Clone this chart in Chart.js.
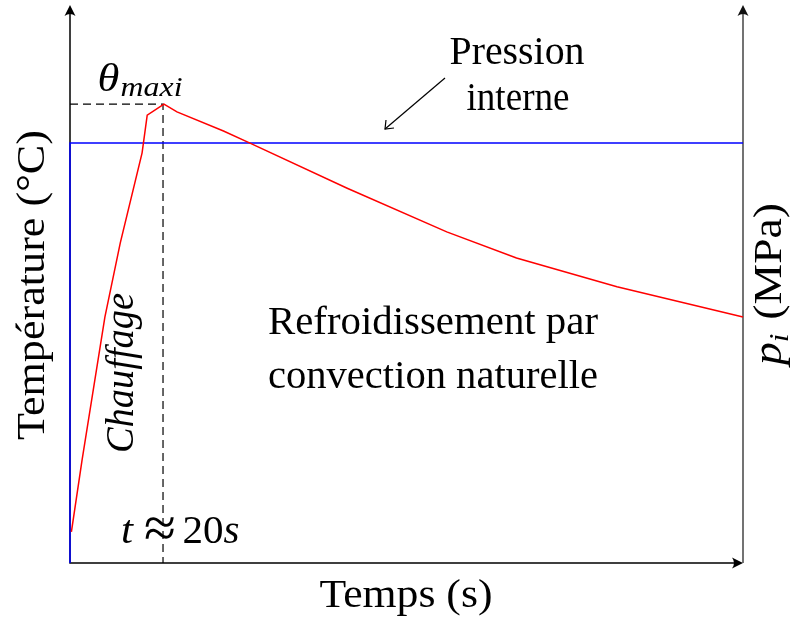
<!DOCTYPE html>
<html>
<head>
<meta charset="utf-8">
<script src="https://cdn.jsdelivr.net/npm/chart.js@4"></script>
<style>
  html, body { margin: 0; padding: 0; background: #fff; }
  #wrap { width: 800px; height: 619px; }
</style>
</head>
<body>
<div id="wrap"><canvas id="c" width="800" height="619"></canvas></div>
<script>
// temps (s) et température (°C)
const tempTimes = [0.3, 2.6, 7.5, 10.8, 15.5, 16.6, 20.2, 23, 33, 38.7, 59.6, 81, 96, 117.6, 144.7];
const tempValues = [6.7, 22.2, 52.9, 68.8, 88.2, 96.3, 98.7, 97.0, 92.9, 90.3, 80.6, 71.2, 65.6, 59.4, 52.9];

// pression interne
const pressTimes = [0, 0, 144.7];
const pressValues = [0, 90.3, 90.3];

// repère du maximum
const peakTime = 20;
const peakTemp = 98.7;

const X_MAX = 144.7;
const Y_MAX = 120;

const toPoints = (xs, ys) => xs.map((x, i) => ({ x, y: ys[i] }));

const SERIF = '"Liberation Serif", "DejaVu Serif", serif';
const R = (s) => s + 'px ' + SERIF;
const I = (s) => 'italic ' + s + 'px ' + SERIF;

function arrowHead(ctx, x, y, angle) {
  ctx.save();
  ctx.translate(x, y);
  ctx.rotate(angle);
  ctx.beginPath();
  ctx.moveTo(0, 0);
  ctx.lineTo(-11, -5.5);
  ctx.quadraticCurveTo(-7, 0, -11, 5.5);
  ctx.closePath();
  ctx.fill();
  ctx.restore();
}

// texte en plusieurs morceaux, centré en (cx, y), étiré à la largeur voulue
function fitText(ctx, parts, cx, y, width, angle) {
  let total = 0;
  const ws = parts.map(p => {
    ctx.font = p.font;
    const w = ctx.measureText(p.text).width + (p.gap || 0);
    total += w;
    return w;
  });
  const s = width ? width / total : 1;
  ctx.save();
  ctx.translate(cx, y);
  if (angle) ctx.rotate(angle);
  ctx.scale(s, 1);
  ctx.textAlign = 'left';
  ctx.textBaseline = 'alphabetic';
  let x = -total / 2;
  parts.forEach((p, i) => {
    ctx.font = p.font;
    ctx.fillText(p.text, x, p.dy || 0);
    x += ws[i];
  });
  ctx.restore();
}

const decorations = {
  id: 'decorations',
  beforeDatasetsDraw(chart) {
    const { ctx, chartArea: a } = chart;
    ctx.save();
    ctx.fillStyle = '#000';
    ctx.strokeStyle = '#000';
    ctx.lineWidth = 1.5;
    ctx.beginPath();
    ctx.moveTo(a.left, a.top + 2);
    ctx.lineTo(a.left, a.bottom);
    ctx.lineTo(a.right - 2, a.bottom);
    ctx.stroke();
    arrowHead(ctx, a.left, a.top, -Math.PI / 2);
    arrowHead(ctx, a.right, a.bottom, 0);
    ctx.strokeStyle = '#444';
    ctx.beginPath();
    ctx.moveTo(a.right, a.bottom);
    ctx.lineTo(a.right, a.top + 2);
    ctx.stroke();
    ctx.fillStyle = '#111';
    arrowHead(ctx, a.right, a.top, -Math.PI / 2);
    ctx.restore();
  },
  afterDraw(chart) {
    const { ctx } = chart;
    const up = -Math.PI / 2;
    ctx.save();
    ctx.fillStyle = '#000';

    // titres d'axes
    fitText(ctx, [{ text: 'Temps (s)', font: R(39) }], 406, 607, 173);
    fitText(ctx, [{ text: 'Température (°C)', font: R(39) }], 44, 285, 310, up);
    fitText(ctx, [
      { text: 'p', font: I(39) },
      { text: 'i', font: I(27), dy: 7, gap: 2 },
      { text: ' (MPa)', font: R(39) }
    ], 781, 284, 162, up);

    // annotations
    fitText(ctx, [{ text: 'Pression', font: R(39) }], 517, 64, 135);
    fitText(ctx, [{ text: 'interne', font: R(39) }], 518, 110, 103);
    fitText(ctx, [{ text: 'Refroidissement par', font: R(39) }], 433, 334, 330);
    fitText(ctx, [{ text: 'convection naturelle', font: R(39) }], 433, 388, 330);
    fitText(ctx, [{ text: 'Chauffage', font: I(39) }], 133, 373, 160, up);

    // flèche vers la courbe de pression
    ctx.strokeStyle = '#000';
    ctx.lineWidth = 1.2;
    ctx.beginPath();
    ctx.moveTo(445, 78);
    ctx.lineTo(385, 129);
    ctx.stroke();
    ctx.beginPath();
    ctx.moveTo(386, 120);
    ctx.lineTo(385, 129);
    ctx.lineTo(394, 128);
    ctx.stroke();

    // θ_maxi
    fitText(ctx, [
      { text: 'θ', font: I(39), gap: 1 },
      { text: 'maxi', font: I(28), dy: 5 }
    ], 140, 91, 85);

    // t ≈ 20s
    fitText(ctx, [{ text: 't', font: I(39) }], 127, 543, 12);
    fitText(ctx, [{ text: '≈', font: R(58) }], 160, 547, 0);
    fitText(ctx, [
      { text: '20', font: R(39) },
      { text: 's', font: I(39) }
    ], 211, 543, 57);

    ctx.restore();
  }
};

new Chart(document.getElementById('c'), {
  type: 'line',
  data: {
    datasets: [
      {
        label: 'Pression interne',
        data: toPoints(pressTimes, pressValues),
        borderColor: '#0000ff',
        borderWidth: 1.5,
        pointRadius: 0,
        tension: 0,
        order: 2
      },
      {
        label: 'Température',
        data: toPoints(tempTimes, tempValues),
        borderColor: '#ff0000',
        borderWidth: 1.5,
        pointRadius: 0,
        tension: 0,
        order: 1
      },
      {
        label: 'θmaxi',
        data: [{ x: 0, y: peakTemp }, { x: peakTime, y: peakTemp }, { x: peakTime, y: 0 }],
        borderColor: '#000',
        borderWidth: 1.2,
        borderDash: [8, 5],
        pointRadius: 0,
        tension: 0,
        order: 3
      }
    ]
  },
  options: {
    responsive: false,
    animation: false,
    events: [],
    clip: false,
    layout: { padding: { left: 70, right: 57, top: 5, bottom: 56 } },
    plugins: { legend: { display: false }, tooltip: { enabled: false } },
    scales: {
      x: { type: 'linear', min: 0, max: X_MAX, display: false },
      y: { type: 'linear', min: 0, max: Y_MAX, display: false }
    }
  },
  plugins: [decorations]
});
</script>
</body>
</html>
